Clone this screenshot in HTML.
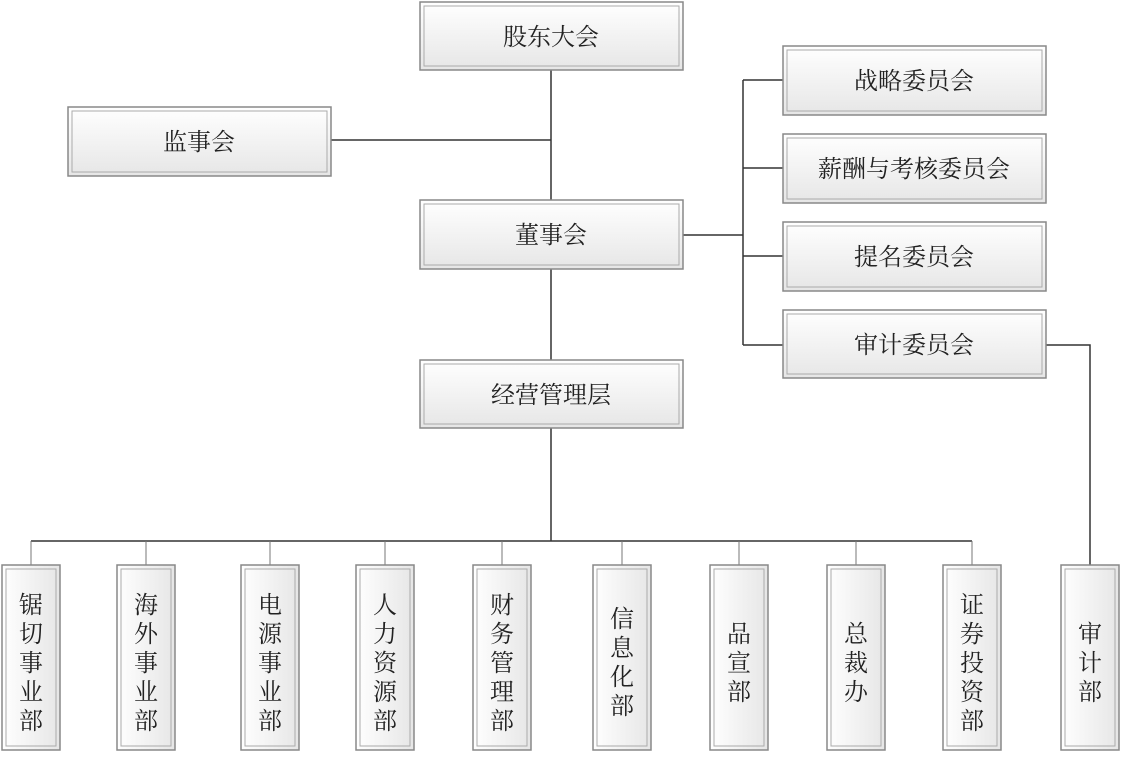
<!DOCTYPE html>
<html><head><meta charset="utf-8"><style>
body{margin:0;background:#fff;width:1121px;height:752px;overflow:hidden}
svg text{font-family:"Liberation Serif","Noto Serif CJK SC",serif;fill:#222}
</style></head><body>
<svg width="1121" height="752" viewBox="0 0 1121 752" xmlns="http://www.w3.org/2000/svg">
<defs>
<linearGradient id="g" x1="0" y1="0" x2="0" y2="1"><stop offset="0" stop-color="#ffffff"/><stop offset="1" stop-color="#e6e6e6"/></linearGradient>
<linearGradient id="gv" x1="0" y1="0" x2="1" y2="0"><stop offset="0" stop-color="#ffffff"/><stop offset="1" stop-color="#e6e6e6"/></linearGradient>
</defs>
<g stroke="#333" stroke-width="1.5" fill="none">
<path d="M551 70V200M551 269V360M551 428V541M331 140H551M683 235H743M743 80V345M743 80H783M743 168H783M743 256H783M743 345H783M1046 345H1090V565M31 541H972"/>
<path d="M31 541V565M146 541V565M270 541V565M385 541V565M502 541V565M622 541V565M739 541V565M856 541V565M972 541V565" stroke="#777" stroke-width="1"/>
</g>
<g stroke="#888" stroke-width="1.5">
<rect x="420" y="2" width="263" height="68" fill="url(#g)"/>
<rect x="68" y="107" width="263" height="69" fill="url(#g)"/>
<rect x="420" y="200" width="263" height="69" fill="url(#g)"/>
<rect x="420" y="360" width="263" height="68" fill="url(#g)"/>
<rect x="783" y="46" width="263" height="69" fill="url(#g)"/>
<rect x="783" y="134" width="263" height="69" fill="url(#g)"/>
<rect x="783" y="222" width="263" height="69" fill="url(#g)"/>
<rect x="783" y="310" width="263" height="68" fill="url(#g)"/>
<rect x="2" y="565" width="58" height="185" fill="url(#gv)"/>
<rect x="117" y="565" width="58" height="185" fill="url(#gv)"/>
<rect x="241" y="565" width="58" height="185" fill="url(#gv)"/>
<rect x="356" y="565" width="58" height="185" fill="url(#gv)"/>
<rect x="473" y="565" width="58" height="185" fill="url(#gv)"/>
<rect x="593" y="565" width="58" height="185" fill="url(#gv)"/>
<rect x="710" y="565" width="58" height="185" fill="url(#gv)"/>
<rect x="827" y="565" width="58" height="185" fill="url(#gv)"/>
<rect x="943" y="565" width="58" height="185" fill="url(#gv)"/>
<rect x="1061" y="565" width="58" height="185" fill="url(#gv)"/>
</g>
<g stroke="#aaa" stroke-width="1" fill="none">
<rect x="424" y="6" width="255" height="60"/>
<rect x="72" y="111" width="255" height="61"/>
<rect x="424" y="204" width="255" height="61"/>
<rect x="424" y="364" width="255" height="60"/>
<rect x="787" y="50" width="255" height="61"/>
<rect x="787" y="138" width="255" height="61"/>
<rect x="787" y="226" width="255" height="61"/>
<rect x="787" y="314" width="255" height="60"/>
<rect x="6" y="569" width="50" height="177"/>
<rect x="121" y="569" width="50" height="177"/>
<rect x="245" y="569" width="50" height="177"/>
<rect x="360" y="569" width="50" height="177"/>
<rect x="477" y="569" width="50" height="177"/>
<rect x="597" y="569" width="50" height="177"/>
<rect x="714" y="569" width="50" height="177"/>
<rect x="831" y="569" width="50" height="177"/>
<rect x="947" y="569" width="50" height="177"/>
<rect x="1065" y="569" width="50" height="177"/>
</g>
<g font-size="24" text-anchor="middle">
<text x="551" y="45">股东大会</text>
<text x="199" y="150">监事会</text>
<text x="551" y="243">董事会</text>
<text x="551" y="403">经营管理层</text>
<text x="914" y="89">战略委员会</text>
<text x="914" y="177">薪酬与考核委员会</text>
<text x="914" y="265">提名委员会</text>
<text x="914" y="353">审计委员会</text>
</g>
<g font-size="24" text-anchor="middle">
<text x="31" y="613">锯</text><text x="31" y="642">切</text><text x="31" y="671">事</text><text x="31" y="700">业</text><text x="31" y="729">部</text>
<text x="146" y="613">海</text><text x="146" y="642">外</text><text x="146" y="671">事</text><text x="146" y="700">业</text><text x="146" y="729">部</text>
<text x="270" y="613">电</text><text x="270" y="642">源</text><text x="270" y="671">事</text><text x="270" y="700">业</text><text x="270" y="729">部</text>
<text x="385" y="613">人</text><text x="385" y="642">力</text><text x="385" y="671">资</text><text x="385" y="700">源</text><text x="385" y="729">部</text>
<text x="502" y="613">财</text><text x="502" y="642">务</text><text x="502" y="671">管</text><text x="502" y="700">理</text><text x="502" y="729">部</text>
<text x="622" y="627">信</text><text x="622" y="656">息</text><text x="622" y="685">化</text><text x="622" y="714">部</text>
<text x="739" y="642">品</text><text x="739" y="671">宣</text><text x="739" y="700">部</text>
<text x="856" y="642">总</text><text x="856" y="671">裁</text><text x="856" y="700">办</text>
<text x="972" y="613">证</text><text x="972" y="642">券</text><text x="972" y="671">投</text><text x="972" y="700">资</text><text x="972" y="729">部</text>
<text x="1090" y="642">审</text><text x="1090" y="671">计</text><text x="1090" y="700">部</text>
</g>
</svg>
</body></html>
